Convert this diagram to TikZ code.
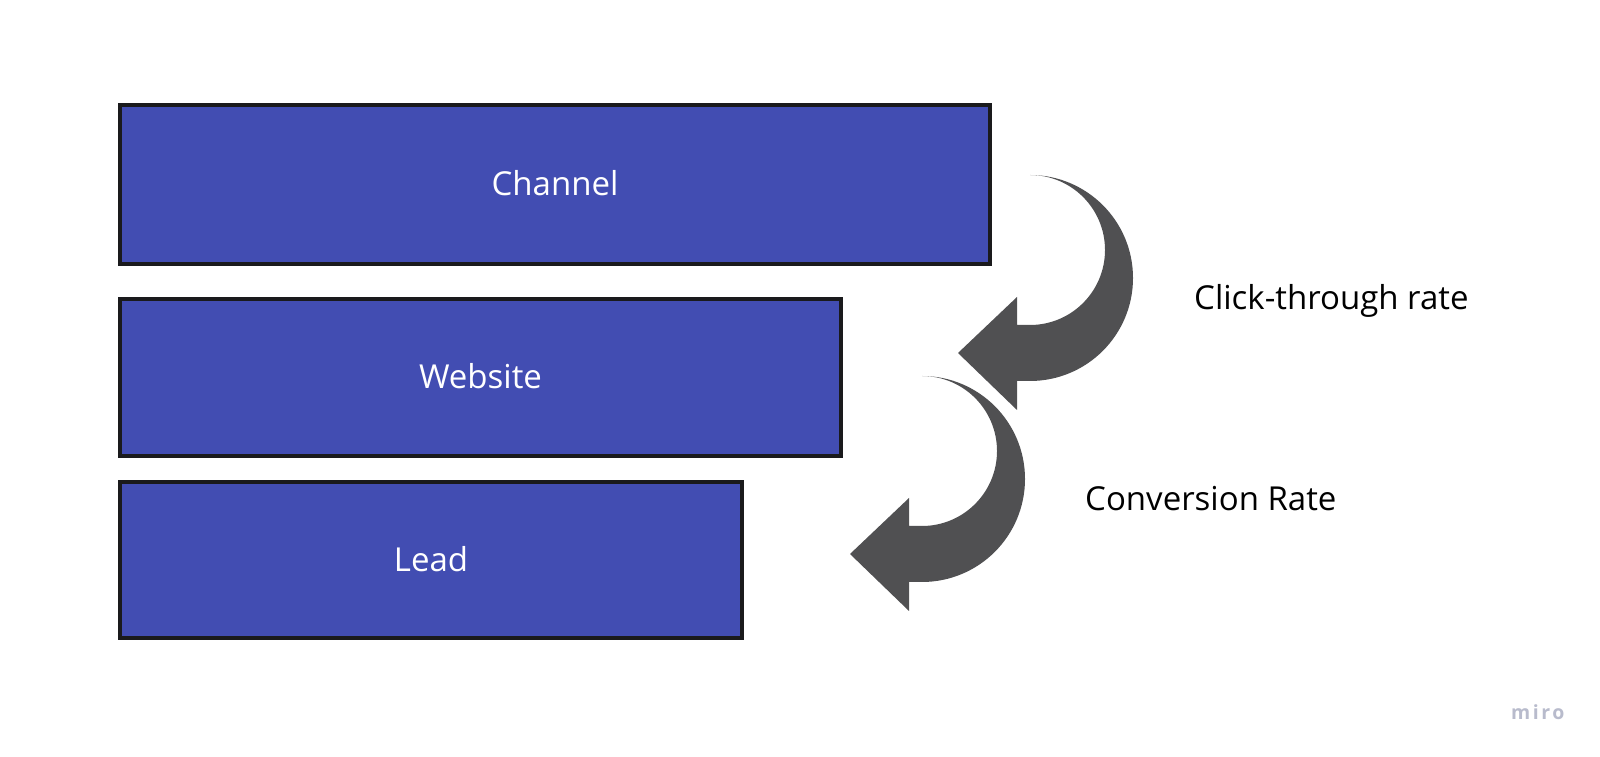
\documentclass[tikz,border=0pt]{standalone}
\usepackage{fontspec}
\setmainfont{Open Sans}
\newfontfamily\mirofont[LetterSpace=13]{Open Sans}
\definecolor{boxblue}{RGB}{66,77,178}
\definecolor{boxline}{RGB}{26,26,28}
\definecolor{arrowgray}{RGB}{80,80,82}
\definecolor{logogray}{RGB}{184,187,204}
\newcommand{\boxtext}[1]{\raisebox{3pt}{#1}}
\tikzset{
  stagebox/.style={draw=boxline, line width=4pt, fill=boxblue, text=white,
    inner sep=0pt, font=\fontsize{33}{39}\selectfont},
  ratelabel/.style={anchor=west, inner sep=0pt, text=black, font=\fontsize{33}{39}\selectfont},
  curvarrow/.pic={
    \fill[arrowgray] (0,0) arc[start angle=90, end angle=-90, radius=103]
      -- (-13,-206) -- (-13,-235) -- (-72,-178) -- (-13,-122) -- (-13,-150)
      -- (0,-150) arc[start angle=-90, end angle=90, radius=75] -- cycle;
  }
}
\begin{document}
\begin{tikzpicture}[x=1pt,y=1pt]
\useasboundingbox (0,0) rectangle (1600,757);
\fill[white] (0,0) rectangle (1600,757);
\node[stagebox, minimum width=870pt, minimum height=159pt] (channel) at (555,572.5) {\boxtext{Channel}};
\node[stagebox, minimum width=721pt, minimum height=157pt] (website) at (480.5,379.5) {\boxtext{Website}};
\node[stagebox, minimum width=622pt, minimum height=156pt] (lead) at (431,197) {\boxtext{Lead}};
\pic at (1030,582) {curvarrow};
\pic at (922,381) {curvarrow};
\node[ratelabel] (ctr) at (1194,456) {Click-through rate};
\node[ratelabel] (conv) at (1085,258) {Conversion Rate};
\node[anchor=west, inner sep=0pt, text=logogray, font=\mirofont\fontsize{19.5}{22}\selectfont] (logo) at (1511,45) {\textbf{miro}};
\end{tikzpicture}
\end{document}
